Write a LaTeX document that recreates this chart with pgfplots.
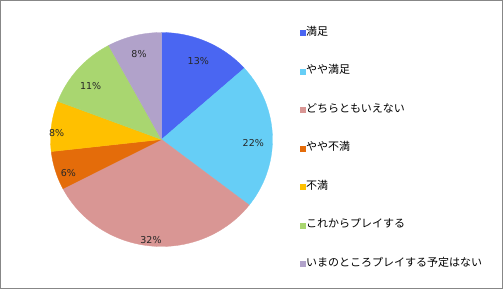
\documentclass[border=0pt]{standalone}
\usepackage{pgfplots}
\pgfplotsset{compat=1.18}
\usepackage{fontspec}
\setmainfont{DejaVu Sans}
\newfontfamily\jp{Noto Sans CJK JP}
\definecolor{c1}{HTML}{4A66F2}
\definecolor{c2}{HTML}{66CEF6}
\definecolor{c3}{HTML}{D99694}
\definecolor{c4}{HTML}{E46C0A}
\definecolor{c5}{HTML}{FFC000}
\definecolor{c6}{HTML}{A9D670}
\definecolor{c7}{HTML}{B1A2CA}
\begin{document}
\begin{tikzpicture}
\begin{axis}[
  x=1pt, y=1pt, scale only axis,
  xmin=0, xmax=503, ymin=0, ymax=289,
  hide axis, clip=false,
  legend style={at={(axis cs:297,262)}, anchor=north west, draw=none, fill=none,
    font=\jp\fontsize{11}{13}\selectfont, text=black, row sep=30.5pt,
    nodes={text height=6pt, text depth=2pt, inner sep=0pt, anchor=west}},
  legend cell align=left,
  legend image code/.code={\fill[#1,draw=none] (-1.5pt,-3pt) rectangle (4.5pt,3pt);},
]
\draw[color=black!47, line width=1pt] (axis cs:0.5,0.5) rectangle (axis cs:502.5,288.5);
% slice sizes in percent: 13.4, 22.1, 31.9, 5.8, 7.6, 11.3, 7.9
\addplot[fill=c1, draw=c1, line width=0.3pt, domain=0:13.4, samples=30, variable=\t]
  ({161.5+111*cos(90-3.6*t)}, {149.5+107*sin(90-3.6*t)}) -- (axis cs:161.5,149.5) -- cycle;
\addlegendentry{満足}
\addplot[fill=c2, draw=c2, line width=0.3pt, domain=13.4:35.5, samples=40, variable=\t]
  ({161.5+111*cos(90-3.6*t)}, {149.5+107*sin(90-3.6*t)}) -- (axis cs:161.5,149.5) -- cycle;
\addlegendentry{やや満足}
\addplot[fill=c3, draw=c3, line width=0.3pt, domain=35.5:67.4, samples=50, variable=\t]
  ({161.5+111*cos(90-3.6*t)}, {149.5+107*sin(90-3.6*t)}) -- (axis cs:161.5,149.5) -- cycle;
\addlegendentry{どちらともいえない}
\addplot[fill=c4, draw=c4, line width=0.3pt, domain=67.4:73.2, samples=15, variable=\t]
  ({161.5+111*cos(90-3.6*t)}, {149.5+107*sin(90-3.6*t)}) -- (axis cs:161.5,149.5) -- cycle;
\addlegendentry{やや不満}
\addplot[fill=c5, draw=c5, line width=0.3pt, domain=73.2:80.8, samples=15, variable=\t]
  ({161.5+111*cos(90-3.6*t)}, {149.5+107*sin(90-3.6*t)}) -- (axis cs:161.5,149.5) -- cycle;
\addlegendentry{不満}
\addplot[fill=c6, draw=c6, line width=0.3pt, domain=80.8:92.1, samples=25, variable=\t]
  ({161.5+111*cos(90-3.6*t)}, {149.5+107*sin(90-3.6*t)}) -- (axis cs:161.5,149.5) -- cycle;
\addlegendentry{これからプレイする}
\addplot[fill=c7, draw=c7, line width=0.3pt, domain=92.1:100, samples=15, variable=\t]
  ({161.5+111*cos(90-3.6*t)}, {149.5+107*sin(90-3.6*t)}) -- (axis cs:161.5,149.5) -- cycle;
\addlegendentry{いまのところプレイする予定はない}
\begin{scope}[every node/.style={font=\fontsize{9.5}{11}\selectfont, text=black!85}]
\node at (axis cs:198.3,228.3) {13\%};
\node at (axis cs:253.3,145.7) {22\%};
\node at (axis cs:151,49) {32\%};
\node at (axis cs:68.3,116.3) {6\%};
\node at (axis cs:56.7,155.7) {8\%};
\node at (axis cs:90.7,203.3) {11\%};
\node at (axis cs:139,234.7) {8\%};
\end{scope}
\end{axis}
\end{tikzpicture}
\end{document}
